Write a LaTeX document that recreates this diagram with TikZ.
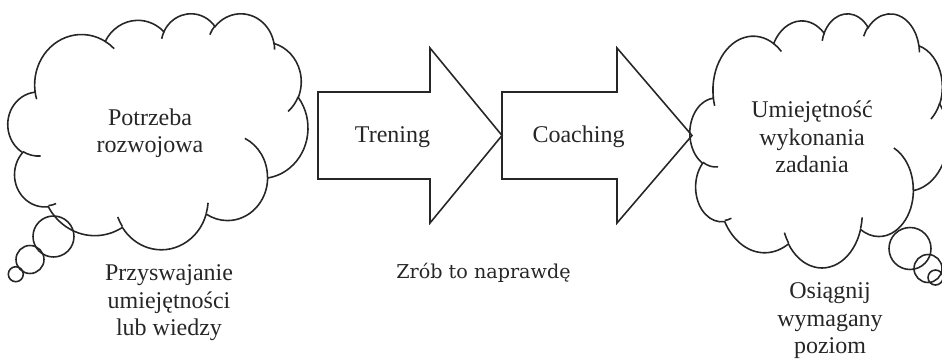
\documentclass[tikz,border=0pt]{standalone}
\usepackage{fontspec}
\setmainfont{Liberation Serif}
\newfontfamily\notefont{DejaVu Serif}

\begin{document}
\begin{tikzpicture}[x=0.02cm,y=0.02cm]
  \useasboundingbox (0,0) rectangle (942,-358);
  \tikzset{
    cloudLine/.style={draw=black!85, line width=0.9pt},
    arrowBox/.style={draw=black!85, line width=0.9pt, line join=miter},
    thoughtText/.style={align=center, text=black!85, font=\fontsize{13.66}{15.65}\selectfont},
    stepText/.style={text=black!85, font=\fontsize{13.66}{15.65}\selectfont},
    noteText/.style={text=black!85, font=\notefont\fontsize{10.9}{13}\selectfont},
    % elliptic arc, angles given as seen (not parametric)
    carc/.style n args={4}{insert path={arc[x radius=#1, y radius=#2,
        start angle={atan2(#1*sin(#3),#2*cos(#3))},
        delta angle={Mod(atan2(#1*sin(#3+#4),#2*cos(#3+#4))-atan2(#1*sin(#3),#2*cos(#3)),360)}]}},
    % cloud outline on a 432 x 432 grid
    thought/.pic={
      \draw[cloudLine] (39.00,143.70)
        [carc={67.53}{91.90}{-190.4875}{123.7805}]
        [carc={53.33}{72.67}{-144.1024}{89.9452}]
        [carc={43.65}{59.45}{-145.8079}{99.7230}]
        [carc={48.57}{65.95}{-130.9861}{117.2417}]
        [carc={53.33}{72.73}{-78.7089}{109.0269}]
        [carc={67.75}{92.20}{-46.2673}{130.2690}]
        [carc={57.85}{78.67}{0.6250}{114.0333}]
        [carc={67.52}{92.15}{22.4516}{115.1726}]
        [carc={77.20}{105.43}{66.2426}{75.7110}]
        [carc={43.60}{59.18}{-274.9421}{146.7356}]
        [carc={43.45}{59.45}{-246.8285}{152.5189}] -- cycle;
      % inner strokes
      \draw[cloudLine]
        (46.93,261.77) [carc={43.45}{59.45}{86.7420}{26.4295}]
        (69.28,348.99) [carc={43.60}{59.18}{73.6105}{11.4475}]
        (164.78,390.90) [carc={67.52}{92.15}{137.6242}{14.0811}]
        (288.27,347.51) [carc={67.52}{92.15}{6.4533}{15.9984}]
        (341.29,229.54) [carc={57.85}{78.67}{-70.2924}{70.9174}]
        (417.98,153.54) [carc={53.33}{72.73}{30.3180}{27.7515}]
        (383.24,54.26) [carc={48.57}{65.95}{-13.7443}{14.8589}]
        (290.78,39.52) [carc={48.57}{65.95}{-149.1815}{18.1954}]
        (221.41,47.20) [carc={43.65}{59.45}{-163.4943}{17.6864}]
        (140.00,51.92) [carc={67.53}{91.90}{-66.7070}{12.3194}]
        (41.27,157.89) [carc={67.53}{91.90}{157.6544}{11.8582}];
    }
  }

  %% Left cloud
  \path (8,-13) pic[x=0.013889cm, y=-0.010926cm] {thought};
  \draw[cloudLine] (53.5,-236.5) circle[radius=20.5];
  \draw[cloudLine] (30,-259.5) circle[radius=14];
  \draw[cloudLine] (15.8,-274.2) circle[radius=7.5];
  \node[thoughtText] (need) at (150,-133.4) {Potrzeba\\rozwojowa};
  \node[thoughtText] (learn) at (169,-302.9) {Przyswajanie\\umiejętności\\lub wiedzy};

  %% Arrows
  \draw[arrowBox] (318,-92) -- (430,-92) -- (430,-48) -- (502,-135.5)
    -- (430,-223) -- (430,-179) -- (318,-179) -- cycle;
  \node[stepText, anchor=base] (trening) at (392.5,-142) {Trening};
  \draw[arrowBox] (502,-92) -- (617,-92) -- (617,-48) -- (692,-135.5)
    -- (617,-223) -- (617,-179) -- (502,-179) -- cycle;
  \node[stepText, anchor=base] (coaching) at (578.5,-142) {Coaching};
  \node[noteText, anchor=base] (doit) at (483.5,-278) {Zrób to naprawdę};

  %% Right cloud
  \path (690,-13) pic[x=0.011944cm, y=-0.011759cm] {thought};
  \draw[cloudLine] (910,-248.5) circle[radius=21];
  \draw[cloudLine] (928,-268.5) circle[radius=14];
  \draw[cloudLine] (935.5,-277.5) circle[radius=7.5];
  \node[thoughtText] (skill) at (812,-137.2) {Umiejętność\\wykonania\\zadania};
  \node[thoughtText] (reach) at (830,-320.9) {Osiągnij\\wymagany\\poziom};
\end{tikzpicture}
\end{document}
